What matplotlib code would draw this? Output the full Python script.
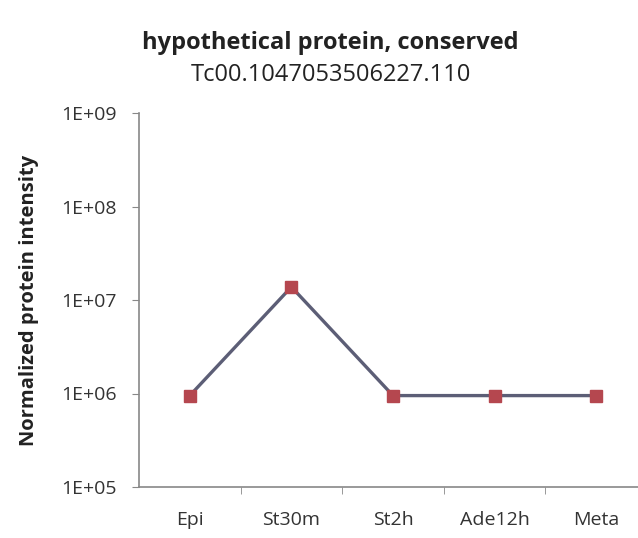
import matplotlib
matplotlib.use("Agg")
import matplotlib.pyplot as plt
import numpy as np

stages = ["Epi", "St30m", "St2h", "Ade12h", "Meta"]
intensity = [9.5e5, 1.38e7, 9.5e5, 9.5e5, 9.5e5]
ytick_vals = [1e5, 1e6, 1e7, 1e8, 1e9]
ytick_labels = ["1E+05", "1E+06", "1E+07", "1E+08", "1E+09"]

plt.rcParams['font.family'] = ['Open Sans', 'DejaVu Sans']

fig = plt.figure(figsize=(6.38, 5.38), dpi=100)
ax = fig.add_axes([139/638, 1-487/538, 508/638, (487-113)/538])

x = np.arange(len(stages))
ax.plot(x, intensity, color='#5c5e76', lw=2.4, zorder=2)
ax.plot(x, intensity, ls='none', marker='s', ms=9, color='#b5474f', zorder=3)

ax.set_yscale('log')
ax.set_ylim(1e5, 1e9)
ax.set_yticks(ytick_vals)
ax.set_yticklabels(ytick_labels, color='#333333', fontsize=14)
ax.minorticks_off()
ax.set_xlim(-0.5, 4.5)
ax.set_xticks(x)
ax.set_xticklabels(stages, fontsize=14, color='#333333')
ax.set_xticks(np.arange(0.5, 4.5, 1), minor=True)
ax.tick_params(axis='x', which='major', length=0, pad=17)
ax.tick_params(axis='x', which='minor', length=5, color='#888888', direction='out')
ax.tick_params(axis='y', length=5, color='#888888', direction='out', pad=11)

for s in ['top', 'right']:
    ax.spines[s].set_visible(False)
for s in ['left', 'bottom']:
    ax.spines[s].set_color('#888888')
    ax.spines[s].set_linewidth(1.2)

ax.set_ylabel('Normalized protein intensity', fontsize=14.5, fontweight='bold',
              color='#222222', va='center')
ax.yaxis.set_label_coords((29 - 139) / 508, 0.5)

fig.text(330/638, 1-43/538, 'hypothetical protein, conserved', ha='center', va='center',
         fontsize=17, fontweight='bold', color='#222222')
fig.text(331/638, 1-75/538, 'Tc00.1047053506227.110', ha='center', va='center',
         fontsize=17, color='#222222')

fig.savefig('out.png', dpi=100)
